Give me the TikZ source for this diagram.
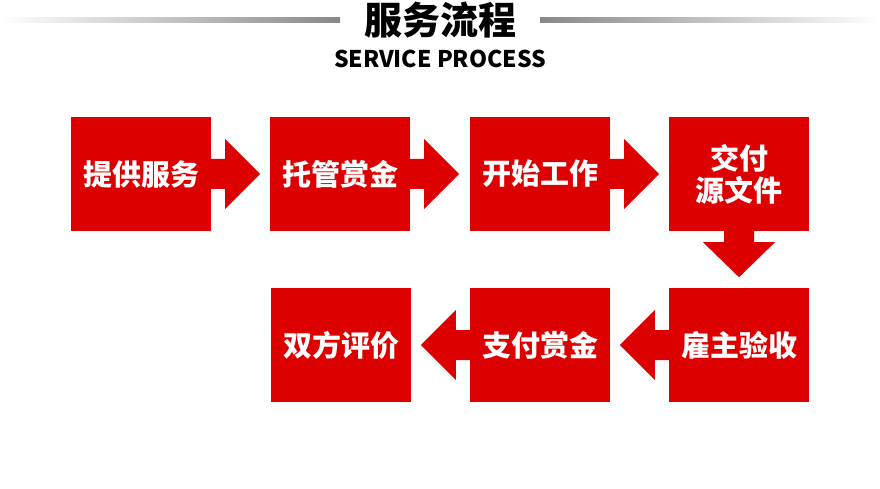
\documentclass[tikz,border=0pt]{standalone}
\usepackage{fontspec}
\setmainfont{Noto Sans CJK SC}
\usepackage{tikz}
\definecolor{stepred}{RGB}{221,0,0}
\definecolor{linegray}{RGB}{136,136,136}

\begin{document}
\begin{tikzpicture}[x=1pt,y=-1pt,
  stepbox/.style={fill=stepred,text=white,minimum width=140pt,minimum height=114pt,
    inner sep=0pt,font=\fontsize{29}{32}\selectfont\bfseries,align=center},
  stepdir/.style={fill=stepred}]
\useasboundingbox (0,0) rectangle (880,489);

\shade[left color=white,right color=linegray] (0,18) rectangle (340,23);
\shade[left color=linegray,right color=white] (540,18) rectangle (880,23);
\node (title) at (440,20) {\fontsize{38}{40}\selectfont\bfseries 服务流程};
\node (subtitle) at (440,59) {\fontsize{23}{25}\selectfont\bfseries SERVICE PROCESS};

\node[stepbox] (s1) at (141,174) {提供服务};
\node[stepbox] (s2) at (340,174) {托管赏金};
\node[stepbox] (s3) at (540,174) {开始工作};
\node[stepbox] (s4) at (739,174) {交付\\源文件};

\node[stepbox] (s5) at (739,345) {雇主验收};
\node[stepbox] (s6) at (540,345) {支付赏金};
\node[stepbox] (s7) at (341,345) {双方评价};

\fill[stepdir] (s1.east) ++(0,-15) -- ++(14,0) -- ++(0,-20) -- ++(35,35) -- ++(-35,35) -- ++(0,-20) -- ++(-14,0) -- cycle;
\fill[stepdir] (s2.east) ++(0,-15) -- ++(14,0) -- ++(0,-20) -- ++(35,35) -- ++(-35,35) -- ++(0,-20) -- ++(-14,0) -- cycle;
\fill[stepdir] (s3.east) ++(0,-15) -- ++(14,0) -- ++(0,-20) -- ++(35,35) -- ++(-35,35) -- ++(0,-20) -- ++(-14,0) -- cycle;

\fill[stepdir] (s4.south) ++(-15,0) -- ++(0,11) -- ++(-21,0) -- ++(36,35) -- ++(36,-35) -- ++(-21,0) -- ++(0,-11) -- cycle;

\fill[stepdir] (s5.west) ++(0,-15) -- ++(-14,0) -- ++(0,-20) -- ++(-35,35) -- ++(35,35) -- ++(0,-20) -- ++(14,0) -- cycle;
\fill[stepdir] (s6.west) ++(0,-15) -- ++(-14,0) -- ++(0,-20) -- ++(-35,35) -- ++(35,35) -- ++(0,-20) -- ++(14,0) -- cycle;

\end{tikzpicture}
\end{document}
